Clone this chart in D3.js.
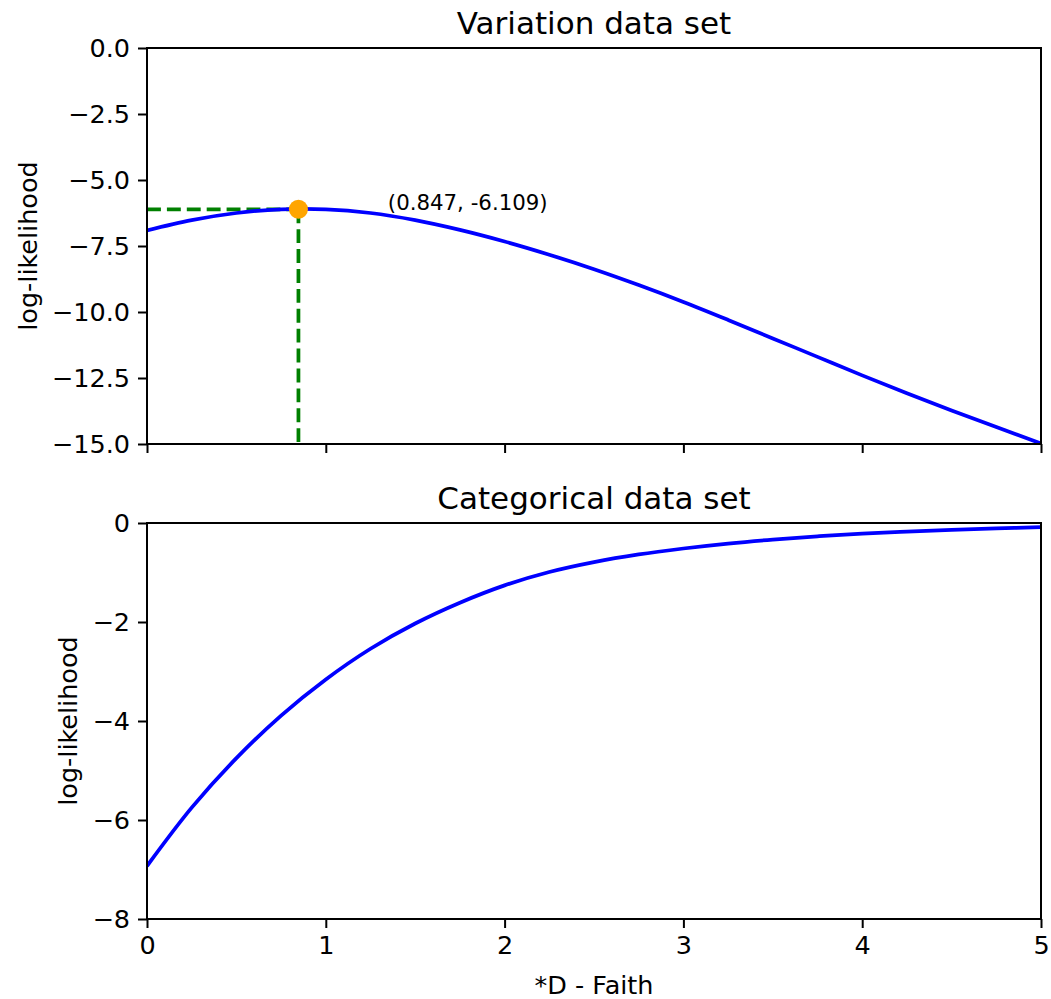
<!DOCTYPE html>
<html>
<head>
<meta charset="utf-8">
<script src="https://cdn.jsdelivr.net/npm/d3@7"></script>
<style>
  html, body { margin: 0; padding: 0; background: #fff; }
  svg { display: block; font-family: "DejaVu Sans", sans-serif; }
</style>
</head>
<body>
<script>
// Shared x grid (*D - Faith)
const xGrid = [0, 0.25, 0.5, 0.75, 1.0, 1.25, 1.5, 1.75, 2.0, 2.25, 2.5,
               2.75, 3.0, 3.25, 3.5, 3.75, 4.0, 4.25, 4.5, 4.75, 5.0];

// Variation data set: log-likelihood
const variationLL = [-6.91, -6.52, -6.25, -6.11, -6.11, -6.25, -6.52, -6.89, -7.33, -7.83, -8.38,
                     -8.98, -9.62, -10.30, -11.00, -11.70, -12.40, -13.08, -13.73, -14.36, -14.98];

// Categorical data set: log-likelihood
const categoricalLL = [-6.93, -5.75, -4.75, -3.89, -3.16, -2.54, -2.03, -1.61, -1.26, -0.99, -0.79,
                       -0.635, -0.515, -0.415, -0.335, -0.27, -0.215, -0.175, -0.14, -0.11, -0.085];

// Maximum of the variation curve
const peak = { x: 0.847, y: -6.109 };

const xTicks = [0, 1, 2, 3, 4, 5];
const topYTicks = [0, -2.5, -5, -7.5, -10, -12.5, -15];
const bottomYTicks = [0, -2, -4, -6, -8];

const W = 1051, H = 999;
const left = 147, right = 1041;
const panels = [
  { title: "Variation data set", top: 48, bottom: 444, domain: [-15, 0],
    ticks: topYTicks, fmt: d => d3.format(".1f")(d).replace("-", "\u2212"),
    values: variationLL, labelX: 28, showX: false },
  { title: "Categorical data set", top: 523, bottom: 919, domain: [-8, 0],
    ticks: bottomYTicks, fmt: d => d3.format("d")(d).replace("-", "\u2212"),
    values: categoricalLL, labelX: 68, showX: true }
];

const svg = d3.select("body").append("svg").attr("width", W).attr("height", H);
const x = d3.scaleLinear().domain([0, 5]).range([left, right]);

panels.forEach((p, i) => {
  const y = d3.scaleLinear().domain(p.domain).range([p.bottom, p.top]);
  const g = svg.append("g");

  const clipId = "clip" + i;
  svg.append("clipPath").attr("id", clipId).append("rect")
    .attr("x", left).attr("y", p.top).attr("width", right - left).attr("height", p.bottom - p.top);

  // guide lines to the maximum (top panel only)
  if (i === 0) {
    const dash = g.append("g").attr("clip-path", `url(#${clipId})`);
    dash.append("line")
      .attr("x1", x(0)).attr("x2", x(peak.x)).attr("y1", y(peak.y)).attr("y2", y(peak.y))
      .attr("stroke", "green").attr("stroke-width", 3.75).attr("stroke-dasharray", "13.9,6");
    dash.append("line")
      .attr("x1", x(peak.x)).attr("x2", x(peak.x)).attr("y1", y(peak.y)).attr("y2", y(-15))
      .attr("stroke", "green").attr("stroke-width", 3.75).attr("stroke-dasharray", "13.9,6");
  }

  const line = d3.line().x((d, k) => x(xGrid[k])).y(d => y(d)).curve(d3.curveCatmullRom.alpha(0.5));
  g.append("path").datum(p.values)
    .attr("clip-path", `url(#${clipId})`)
    .attr("d", line).attr("fill", "none").attr("stroke", "blue").attr("stroke-width", 3.75);

  if (i === 0) {
    g.append("circle").attr("cx", x(peak.x)).attr("cy", y(peak.y)).attr("r", 9.5).attr("fill", "orange");
    g.append("text").attr("x", x(peak.x + 0.5)).attr("y", y(peak.y) + 0.5)
      .attr("font-size", 21.3).attr("fill", "#000")
      .text(`(${peak.x}, ${peak.y})`);
  }

  // y axis
  const yAxis = d3.axisLeft(y).tickValues(p.ticks).tickFormat(p.fmt).tickSize(9).tickPadding(8);
  const ya = g.append("g").attr("transform", `translate(${left},0)`).call(yAxis);
  // x axis
  const xAxis = d3.axisBottom(x).tickValues(xTicks).tickFormat(p.showX ? d3.format("d") : "")
    .tickSize(9).tickPadding(8);
  const xa = g.append("g").attr("transform", `translate(0,${p.bottom})`).call(xAxis);

  [ya, xa].forEach(a => {
    a.select(".domain").remove();
    a.selectAll(".tick line").attr("stroke", "#000").attr("stroke-width", 2);
    a.selectAll(".tick text").attr("font-size", 25.5).attr("fill", "#000")
      .attr("font-family", "DejaVu Sans");
  });

  // frame
  g.append("rect").attr("x", left).attr("y", p.top)
    .attr("width", right - left).attr("height", p.bottom - p.top)
    .attr("fill", "none").attr("stroke", "#000").attr("stroke-width", 2);

  // title
  g.append("text").attr("x", (left + right) / 2).attr("y", p.top - 14)
    .attr("text-anchor", "middle").attr("font-size", 31).attr("fill", "#000").text(p.title);

  // y label
  g.append("text")
    .attr("transform", `translate(${p.labelX},${(p.top + p.bottom) / 2}) rotate(-90)`)
    .attr("text-anchor", "middle").attr("dominant-baseline", "central")
    .attr("font-size", 25.5).attr("fill", "#000").text("log-likelihood");
});

svg.append("text").attr("x", (left + right) / 2).attr("y", 994)
  .attr("text-anchor", "middle").attr("font-size", 25.5).attr("fill", "#000").text("*D - Faith");
</script>
</body>
</html>
